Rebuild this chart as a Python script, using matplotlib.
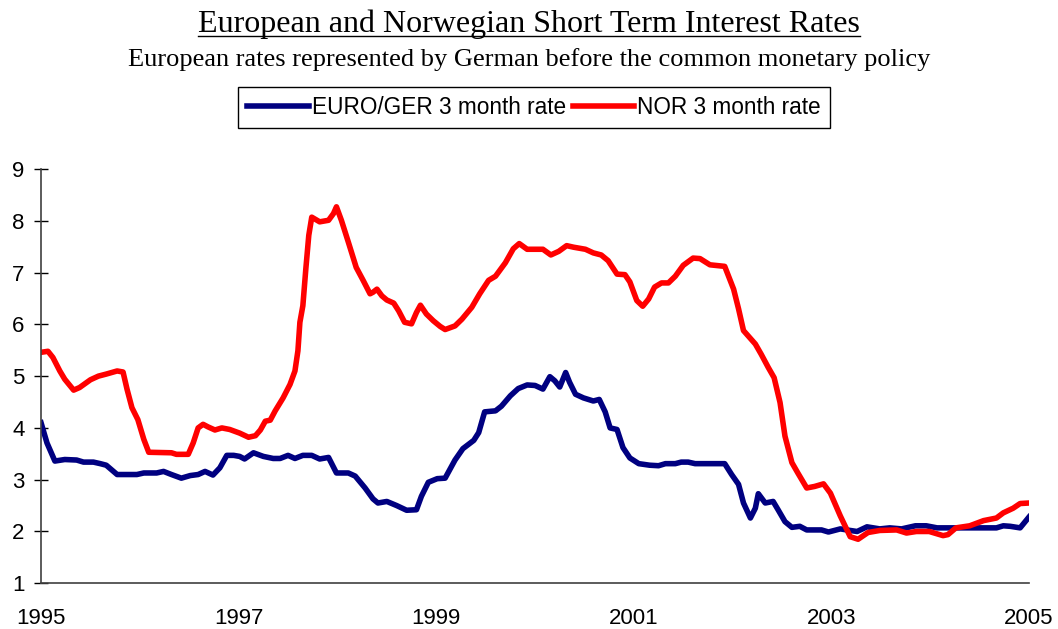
import matplotlib
matplotlib.use("Agg")
import matplotlib.pyplot as plt
from matplotlib.lines import Line2D

# NOR 3 month rate (date as decimal year, rate)
norDates = [1995.00, 1995.07, 1995.12, 1995.19, 1995.24, 1995.33, 1995.39, 1995.50, 1995.58, 1995.66,
            1995.77, 1995.83, 1995.87, 1995.92, 1995.98, 1996.04, 1996.09, 1996.32, 1996.37, 1996.49,
            1996.54, 1996.59, 1996.64, 1996.69, 1996.76, 1996.83, 1996.91, 1997.01, 1997.10, 1997.17,
            1997.22, 1997.27, 1997.32, 1997.37, 1997.45, 1997.52, 1997.57, 1997.60, 1997.62, 1997.65,
            1997.68, 1997.71, 1997.74, 1997.82, 1997.91, 1997.96, 1997.99, 1998.04, 1998.11, 1998.19,
            1998.26, 1998.33, 1998.36, 1998.40, 1998.45, 1998.50, 1998.57, 1998.62, 1998.68, 1998.75,
            1998.80, 1998.84, 1998.90, 1998.97, 1999.04, 1999.09, 1999.19, 1999.26, 1999.36, 1999.44,
            1999.53, 1999.60, 1999.70, 1999.78, 1999.84, 1999.92, 2000.08, 2000.16, 2000.24, 2000.32,
            2000.39, 2000.51, 2000.59, 2000.67, 2000.74, 2000.83, 2000.91, 2000.96, 2001.03, 2001.09,
            2001.15, 2001.21, 2001.28, 2001.35, 2001.42, 2001.50, 2001.60, 2001.67, 2001.77, 2001.92,
            2002.01, 2002.06, 2002.11, 2002.23, 2002.29, 2002.36, 2002.42, 2002.48, 2002.53, 2002.60,
            2002.66, 2002.75, 2002.83, 2002.92, 2002.99, 2003.09, 2003.19, 2003.27, 2003.37, 2003.49,
            2003.66, 2003.76, 2003.86, 2003.99, 2004.13, 2004.18, 2004.26, 2004.40, 2004.54, 2004.67,
            2004.74, 2004.84, 2004.91, 2005.00]
norRate = [5.46, 5.48, 5.36, 5.10, 4.94, 4.73, 4.78, 4.93, 5.00, 5.04,
           5.10, 5.08, 4.75, 4.39, 4.16, 3.78, 3.53, 3.52, 3.49, 3.49,
           3.71, 4.00, 4.07, 4.02, 3.96, 4.00, 3.97, 3.90, 3.82, 3.85,
           3.96, 4.13, 4.15, 4.33, 4.58, 4.84, 5.10, 5.49, 6.04, 6.36,
           7.07, 7.72, 8.07, 7.98, 8.01, 8.14, 8.27, 8.01, 7.59, 7.10,
           6.85, 6.59, 6.62, 6.68, 6.55, 6.47, 6.41, 6.26, 6.04, 6.01,
           6.23, 6.37, 6.20, 6.07, 5.96, 5.90, 5.97, 6.10, 6.33, 6.59,
           6.85, 6.93, 7.19, 7.46, 7.56, 7.45, 7.45, 7.34, 7.41, 7.52,
           7.49, 7.45, 7.38, 7.34, 7.23, 6.97, 6.96, 6.82, 6.46, 6.35,
           6.49, 6.72, 6.80, 6.80, 6.93, 7.14, 7.28, 7.27, 7.15, 7.12,
           6.68, 6.30, 5.88, 5.62, 5.42, 5.17, 4.97, 4.49, 3.84, 3.33,
           3.13, 2.84, 2.87, 2.92, 2.74, 2.30, 1.90, 1.85, 1.98, 2.02,
           2.03, 1.97, 2.00, 2.00, 1.92, 1.94, 2.07, 2.11, 2.21, 2.26,
           2.36, 2.45, 2.54, 2.55]

# EURO/GER 3 month rate
eurDates = [1995.00, 1995.06, 1995.14, 1995.24, 1995.36, 1995.43, 1995.53, 1995.60, 1995.66, 1995.77,
            1995.97, 1996.04, 1996.17, 1996.24, 1996.32, 1996.42, 1996.51, 1996.59, 1996.66, 1996.74,
            1996.81, 1996.88, 1996.95, 1997.01, 1997.06, 1997.15, 1997.25, 1997.35, 1997.42, 1997.50,
            1997.57, 1997.65, 1997.74, 1997.82, 1997.91, 1997.99, 1998.11, 1998.18, 1998.28, 1998.36,
            1998.41, 1998.50, 1998.60, 1998.70, 1998.80, 1998.85, 1998.92, 1999.01, 1999.09, 1999.19,
            1999.27, 1999.38, 1999.43, 1999.49, 1999.60, 1999.66, 1999.75, 1999.83, 1999.92, 2000.00,
            2000.08, 2000.15, 2000.20, 2000.25, 2000.31, 2000.35, 2000.41, 2000.49, 2000.59, 2000.65,
            2000.71, 2000.76, 2000.83, 2000.89, 2000.96, 2001.05, 2001.16, 2001.25, 2001.32, 2001.42,
            2001.48, 2001.55, 2001.62, 2001.92, 2001.99, 2002.06, 2002.11, 2002.18, 2002.23, 2002.26,
            2002.33, 2002.41, 2002.46, 2002.53, 2002.60, 2002.68, 2002.75, 2002.90, 2002.97, 2003.09,
            2003.19, 2003.26, 2003.36, 2003.49, 2003.59, 2003.71, 2003.85, 2003.96, 2004.07, 2004.67,
            2004.74, 2004.81, 2004.91, 2005.00]
eurRate = [4.10, 3.71, 3.36, 3.39, 3.38, 3.34, 3.34, 3.31, 3.28, 3.10,
           3.10, 3.13, 3.13, 3.16, 3.10, 3.03, 3.08, 3.10, 3.16, 3.09,
           3.23, 3.47, 3.47, 3.45, 3.40, 3.52, 3.45, 3.41, 3.41, 3.47,
           3.41, 3.47, 3.47, 3.40, 3.43, 3.13, 3.13, 3.07, 2.84, 2.63,
           2.55, 2.58, 2.50, 2.41, 2.42, 2.68, 2.95, 3.02, 3.03, 3.38,
           3.60, 3.76, 3.91, 4.31, 4.33, 4.42, 4.62, 4.76, 4.83, 4.82,
           4.75, 4.99, 4.91, 4.79, 5.07, 4.88, 4.65, 4.58, 4.52, 4.55,
           4.31, 4.00, 3.97, 3.62, 3.42, 3.31, 3.28, 3.27, 3.31, 3.31,
           3.34, 3.34, 3.31, 3.31, 3.10, 2.91, 2.55, 2.26, 2.45, 2.73,
           2.55, 2.58, 2.42, 2.19, 2.08, 2.10, 2.03, 2.03, 1.99, 2.05,
           2.02, 2.00, 2.09, 2.05, 2.07, 2.05, 2.11, 2.11, 2.07, 2.07,
           2.11, 2.10, 2.07, 2.28]

yearTicks = [1995, 1997, 1999, 2001, 2003, 2005]
rateTicks = [1, 2, 3, 4, 5, 6, 7, 8, 9]

fig = plt.figure(figsize=(10.58, 6.29), dpi=100)
ax = fig.add_axes([0.0388, 0.0727, 0.9338, 0.6586])

ax.plot(eurDates, eurRate, color="#000080", linewidth=4.0, solid_joinstyle="round",
        label="EURO/GER 3 month rate")
ax.plot(norDates, norRate, color="#ff0000", linewidth=4.0, solid_joinstyle="round",
        label="NOR 3 month rate")

ax.set_xlim(1995, 2005)
ax.set_ylim(1, 9)
ax.set_xticks(yearTicks)
ax.set_yticks(rateTicks)
ax.tick_params(axis="x", length=0, pad=18, labelsize=16)
ax.tick_params(axis="y", direction="inout", length=10, width=1, pad=7, labelsize=16)
for lab in ax.get_xticklabels() + ax.get_yticklabels():
    lab.set_family("Liberation Sans")

ax.spines["top"].set_visible(False)
ax.spines["right"].set_visible(False)
ax.spines["left"].set_color("#404040")
ax.spines["bottom"].set_color("#404040")
ax.spines["left"].set_linewidth(1.2)
ax.spines["bottom"].set_linewidth(1.2)

leg = fig.legend(loc="center", bbox_to_anchor=(0.505, 0.829), ncol=2, fancybox=False,
                 edgecolor="black", framealpha=1, handlelength=2.7, handletextpad=0.15,
                 columnspacing=0.3, borderpad=0.4,
                 prop={"family": "Liberation Sans", "size": 16.3})
leg.get_frame().set_linewidth(1.0)

title = fig.text(0.5, 0.962, "European and Norwegian Short Term Interest Rates",
                 ha="center", va="center", family="Liberation Serif", fontsize=23)
fig.text(0.5, 0.906, "European rates represented by German before the common monetary policy",
         ha="center", va="center", family="Liberation Serif", fontsize=19)

# underline the title
fig.canvas.draw()
bb = title.get_window_extent().transformed(fig.transFigure.inverted())
uy = bb.y0 + 0.004
fig.add_artist(Line2D([bb.x0, bb.x1], [uy, uy], transform=fig.transFigure,
                      color="black", linewidth=1.0))

fig.savefig("out.png", dpi=100)
